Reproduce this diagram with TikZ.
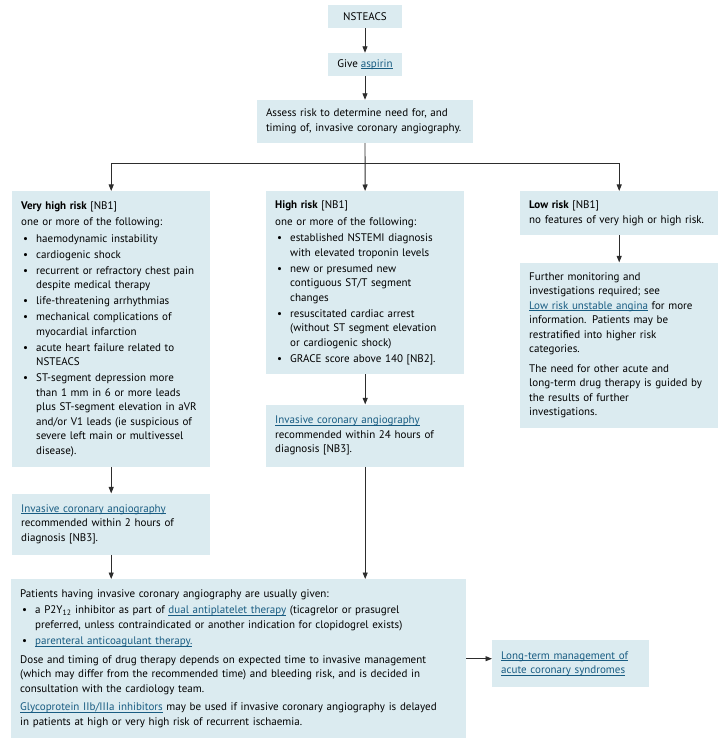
\documentclass[tikz,border=0pt]{standalone}
\usepackage{fontspec}
\setmainfont{PT Sans}
\usetikzlibrary{calc,arrows.meta}

\definecolor{boxblue}{RGB}{219,235,240}
\definecolor{linkblue}{RGB}{24,92,130}
\definecolor{linegray}{RGB}{45,45,45}
\newsavebox{\lnkbox}
\newcommand{\bodyfont}{\fontsize{11}{14.5}\selectfont}
\newcommand{\lnk}[1]{\textcolor{linkblue}{\sbox{\lnkbox}{#1}\rlap{\rule[-1.8pt]{\wd\lnkbox}{0.7pt}}\usebox{\lnkbox}}}
\newcommand{\bl}{\hspace*{2pt}\makebox[13pt][l]{\textbullet}}
\newcommand{\ind}{\hspace*{15pt}}

\begin{document}
\begin{tikzpicture}[x=1pt, y=-1pt,
    box/.style={fill=boxblue, draw=none, inner xsep=9pt, inner ysep=6pt, align=left, font=\bodyfont},
    arr/.style={draw=linegray, line width=0.9pt, -{Triangle[length=6.5pt,width=5pt]}}]
    \useasboundingbox (0,0) rectangle (727,751);

    \node [box, align=center, minimum width=74, minimum height=23, inner xsep=0pt] (nsteacs) at (365,16.5) {NSTEACS};
    \node [box, align=center, minimum width=74, minimum height=23, inner xsep=0pt] (aspirin) at ($(nsteacs) + (0,48)$) {Give \lnk{aspirin}};
    \node [box, text width=198, minimum height=43] (assess) at ($(aspirin) + (0,57)$) {Assess risk to determine need for, and\\timing of, invasive coronary angiography.};
    \coordinate (split) at ($(assess.south) + (0,20)$);

        \node [box, anchor=north west, text width=180, minimum height=276] (vhigh) at (12,191) {\textbf{Very high risk} [NB1]\\[2pt]
            one or more of the following:\\[2pt]
            \bl haemodynamic instability\\[1.5pt]
            \bl cardiogenic shock\\[1.5pt]
            \bl recurrent or refractory chest pain\\
            \ind despite medical therapy\\[1.5pt]
            \bl life-threatening arrhythmias\\[1.5pt]
            \bl mechanical complications of\\
            \ind myocardial infarction\\[1.5pt]
            \bl acute heart failure related to\\
            \ind NSTEACS\\[1.5pt]
            \bl ST-segment depression more\\
            \ind than 1 mm in 6 or more leads\\
            \ind \mbox{plus ST-segment elevation in aVR}\\
            \ind \mbox{and/or V1 leads (ie suspicious of}\\
            \ind severe left main or multivessel\\
            \ind disease).};
            \node [box, anchor=north west, text width=180, minimum height=61] (inv2) at ($(vhigh.south west) + (0,26)$) {\lnk{Invasive coronary angiography}\\recommended within 2 hours of\\diagnosis [NB3].};

        \node [box, anchor=north west, text width=180, minimum height=183] (high) at (266,191) {\textbf{High risk} [NB1]\\[2pt]
            one or more of the following:\\[2pt]
            \bl established NSTEMI diagnosis\\
            \ind with elevated troponin levels\\[1.5pt]
            \bl new or presumed new\\
            \ind contiguous ST/T segment\\
            \ind changes\\[1.5pt]
            \bl resuscitated cardiac arrest\\
            \ind \mbox{(without ST segment elevation}\\
            \ind or cardiogenic shock)\\[1.5pt]
            \bl GRACE score above 140 [NB2].};
            \node [box, anchor=north west, text width=180, minimum height=62] (inv24) at ($(high.south west) + (0,30)$) {\lnk{Invasive coronary angiography}\\recommended within 24 hours of\\diagnosis [NB3].};

        \node [box, anchor=north west, text width=180, minimum height=44] (low) at (520,191) {\textbf{Low risk} [NB1]\\\mbox{no features of very high or high risk.}};
            \node [box, anchor=north west, text width=180, minimum height=165] (further) at ($(low.south west) + (0,27)$) {Further monitoring and\\
                investigations required; see\\
                \lnk{Low risk unstable angina} for more\\
                information. Patients may be\\
                restratified into higher risk\\
                categories.\\[5pt]
                The need for other acute and\\
                \mbox{long-term drug therapy is guided by}\\
                the results of further\\
                investigations.};

    \node [box, anchor=north west, text width=437, minimum height=159] (dapt) at (11,579) {Patients having invasive coronary angiography are usually given:\\[2pt]
        \bl a P2Y\textsubscript{12} inhibitor as part of \lnk{dual antiplatelet therapy} (ticagrelor or prasugrel\\
        \ind preferred, unless contraindicated or another indication for clopidogrel exists)\\[2pt]
        \bl \lnk{parenteral anticoagulant therapy.}\\[4pt]
        Dose and timing of drug therapy depends on expected time to invasive management\\
        (which may differ from the recommended time) and bleeding risk, and is decided in\\
        consultation with the cardiology team.\\[4pt]
        \mbox{\lnk{Glycoprotein IIb/IIIa inhibitors} may be used if invasive coronary angiography is delayed}\\
        in patients at high or very high risk of recurrent ischaemia.};
    \node [box, anchor=north west, text width=139, minimum height=47] (lterm) at (492,640) {\lnk{Long-term management of}\\\lnk{acute coronary syndromes}};

    \draw [arr] (nsteacs) -- (aspirin);
    \draw [arr] (aspirin) -- (assess);
    \draw [arr] (assess) -- (high);
    \draw [arr] (split) -| (vhigh.north);
    \draw [arr] (split) -| (low.north);
        \draw [arr] (vhigh) -- (inv2);
        \draw [arr] (inv2) -- (inv2 |- dapt.north);
        \draw [arr] (high) -- (inv24);
        \draw [arr] (inv24) -- (inv24 |- dapt.north);
        \draw [arr] (low) -- (further);
    \draw [arr] (dapt.east) -- (dapt.east -| lterm.west);
\end{tikzpicture}
\end{document}
